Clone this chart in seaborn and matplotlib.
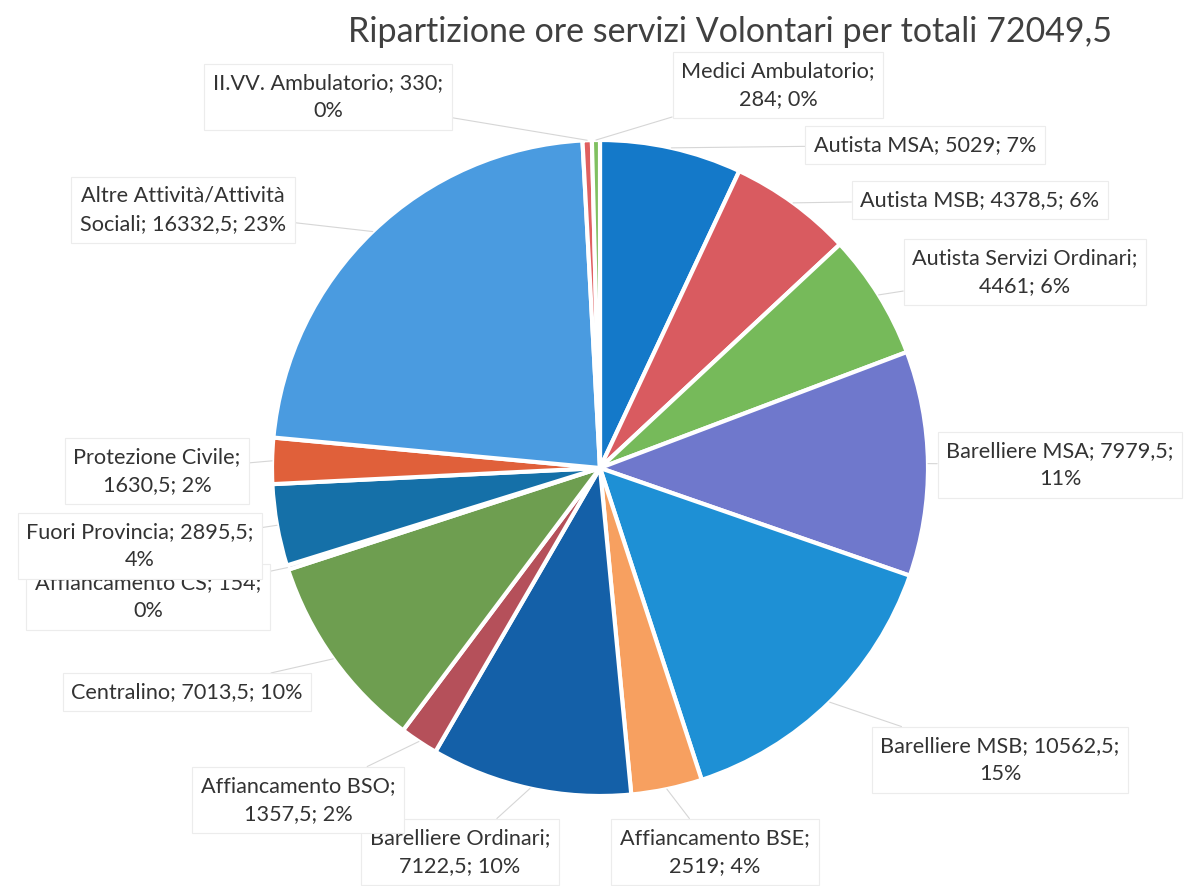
import numpy as np
import matplotlib.pyplot as plt
import seaborn as sns

# Slice data (clockwise from 12 o'clock)
categories = [
    "Autista MSA", "Autista MSB", "Autista Servizi Ordinari", "Barelliere MSA",
    "Barelliere MSB", "Affiancamento BSE", "Barelliere Ordinari", "Affiancamento BSO",
    "Centralino", "Affiancamento CS", "Fuori Provincia", "Protezione Civile",
    "Altre Attività/Attività\nSociali", "II.VV. Ambulatorio", "Medici Ambulatorio",
]
hours = [5029, 4378.5, 4461, 7979.5, 10562.5, 2519, 7122.5, 1357.5,
         7013.5, 154, 2895.5, 1630.5, 16332.5, 330, 284]
percents = [7, 6, 6, 11, 15, 4, 10, 2, 10, 0, 4, 2, 23, 0, 0]
title = "Ripartizione ore servizi Volontari per totali 72049,5"

colors = ["#1479c9", "#d95b60", "#76ba5a", "#6f78cc", "#1e90d5", "#f7a060",
          "#1460a8", "#b5505a", "#6e9e50", "#8a6ab0", "#1570a8", "#e0603a",
          "#4a9be0", "#e06060", "#80c060"]

# where each label wraps: 0 = one line, 1 = after name, 2 = after value
wrap = [0, 0, 1, 2, 2, 1, 1, 1, 0, 2, 2, 1, 0, 2, 1]
# label box centres in pixels (x from left, y from top)
label_pos = [(925, 145), (980, 200), (1025, 272), (1060, 465), (1000, 760),
             (715, 852), (460, 852), (298, 800), (187, 692), (148, 597),
             (140, 546), (157, 471), (183, 210), (328, 97), (778, 85)]

sns.set_theme(style="white")
plt.rcParams["font.family"] = ["Lato", "DejaVu Sans"]

W, H = 1201, 886
fig = plt.figure(figsize=(W / 100, H / 100), dpi=100)
ax = fig.add_axes([0, 0, 1, 1])

cx, cy, r = 600, H - 468, 328
wedges, _ = ax.pie(hours, colors=colors, startangle=90, counterclock=False,
                   center=(cx, cy), radius=r,
                   wedgeprops=dict(edgecolor="white", linewidth=3))
ax.set_xlim(0, W)
ax.set_ylim(0, H)
ax.set_aspect("equal")
ax.axis("off")


def fmt(v):
    return (f"{v:.1f}" if v % 1 else f"{int(v)}").replace(".", ",")


for i, (name, v, p) in enumerate(zip(categories, hours, percents)):
    if wrap[i] == 1:
        txt = f"{name};\n{fmt(v)}; {p}%"
    elif wrap[i] == 2:
        txt = f"{name}; {fmt(v)};\n{p}%"
    else:
        txt = f"{name}; {fmt(v)}; {p}%"
    w = wedges[i]
    mid = np.deg2rad((w.theta1 + w.theta2) / 2)
    tip = (cx + r * np.cos(mid), cy + r * np.sin(mid))
    lx, ly = label_pos[i]
    ax.annotate(txt, xy=tip, xytext=(lx, H - ly), ha="center", va="center",
                fontsize=15.6, color="#333333", linespacing=1.55, zorder=5 + i,
                bbox=dict(boxstyle="square,pad=0.4", fc="white",
                          ec="#ececec", lw=0.8),
                arrowprops=dict(arrowstyle="-", color="#d6d6d6", lw=0.8,
                                shrinkA=0, shrinkB=0))

fig.text(730 / W, 1 - 32 / H, title, ha="center", va="center",
         fontsize=24.5, color="#404040")

fig.savefig("out.png", dpi=100)
plt.close(fig)
